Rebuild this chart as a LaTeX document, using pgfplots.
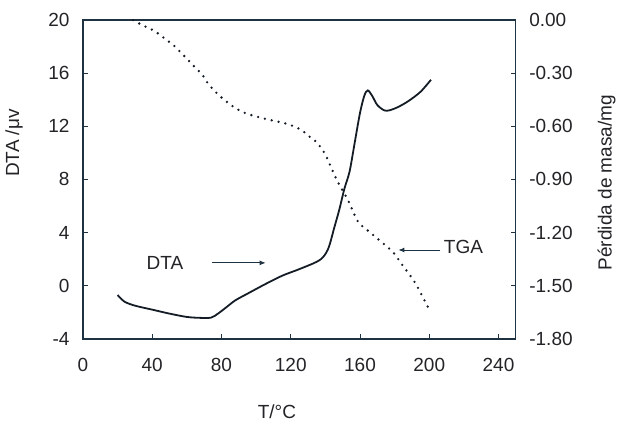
\documentclass[border=0pt]{standalone}
\usepackage{pgfplots}
\pgfplotsset{compat=1.18}
\usepackage{fontspec}
\setmainfont{Liberation Sans}
\usetikzlibrary{calc,arrows.meta}
\definecolor{axc}{RGB}{30,50,65}
\definecolor{crv}{RGB}{20,28,38}
\definecolor{txt}{RGB}{35,35,40}
\begin{document}
\begin{tikzpicture}
\pgfplotsset{every axis/.append style={
  scale only axis, width=433pt, height=319pt,
  xmin=0, xmax=250,
  font=\fontsize{19}{22}\selectfont, text=txt,
  /pgf/number format/assume math mode=true,
  tick style={axc, line width=0.8pt}, major tick length=5pt,
  axis line style={axc, line width=1.3pt}, tick align=inside,
  at={(0,0)}, anchor=south west}}
\begin{axis}[name=ax,
  ymin=-4, ymax=20, ytick={-4,0,4,8,12,16,20},
  xtick={0,40,80,120,160,200,240},
  xtick pos=bottom, ytick pos=left,
  xticklabel style={yshift=-16pt},
  yticklabel style={xshift=-10pt},
  xlabel={T/°C},
  xlabel style={at={(axis description cs:0.448,-0.229)}, anchor=center},
  ylabel={DTA /μv},
  ylabel style={at={(axis description cs:-0.159,0.614)}, anchor=center},
]
\addplot[crv, line width=1.8pt, smooth] coordinates {
(20,-0.7) (24,-1.2) (30,-1.5) (40,-1.8) (50,-2.1) (60,-2.35) (68,-2.42) (74,-2.4)
(78,-2.1) (83,-1.6) (88,-1.1) (95,-0.6) (105,0.1) (115,0.75) (125,1.25) (135,1.8)
(139,2.2) (142,2.9) (145,4.3) (148,5.7) (151,7.3) (154,8.6) (157,10.8) (160,13.0)
(162.5,14.3) (164.5,14.7) (167,14.3) (170,13.6) (174,13.2) (177,13.2) (182,13.45)
(188,13.9) (195,14.6) (201,15.5)};
\node[txt] at (axis cs:47.4,1.72) {DTA};
\draw[axc, line width=0.9pt, -{Latex[length=6pt,width=5pt]}] (axis cs:74.6,1.72) -- (axis cs:105.5,1.72);
\node[txt] at (axis cs:219.8,2.92) {TGA};
\draw[axc, line width=0.9pt, -{Latex[length=6pt,width=5pt]}] (axis cs:206.5,2.69) -- (axis cs:182.2,2.69);
\end{axis}
\begin{axis}[
  ymin=-1.8, ymax=0, ytick={-1.8,-1.5,-1.2,-0.9,-0.6,-0.3,0},
  hide x axis,
  ytick pos=right, yticklabel pos=right,
  yticklabel style={xshift=10pt, /pgf/number format/.cd, fixed, fixed zerofill, precision=2},
  ylabel={Pérdida de masa/mg},
  ylabel style={at={(axis description cs:1.21,0.49)}, anchor=center},
]
\addplot[crv, line width=2.6pt, line cap=round, dash pattern=on 0pt off 7pt, smooth] coordinates {
(29,0) (34,-0.028) (39,-0.05) (44,-0.08) (47.4,-0.107) (52,-0.14) (58,-0.198) (65,-0.27)
(69,-0.31) (72,-0.356) (76,-0.40) (81,-0.446) (88,-0.497) (95,-0.53) (106,-0.56) (111,-0.57)
(119,-0.59) (126,-0.62) (131,-0.66) (135,-0.69) (140,-0.76) (144.6,-0.86) (147.5,-0.92)
(153,-1.016) (159,-1.14) (166,-1.20) (172,-1.25) (179,-1.31) (185,-1.39) (191,-1.47)
(195,-1.54) (199.5,-1.625)};
\end{axis}
\path[use as bounding box] ($(ax.south west)+(-83pt,-86pt)$) rectangle ($(ax.north east)+(103pt,20pt)$);
\end{tikzpicture}
\end{document}
